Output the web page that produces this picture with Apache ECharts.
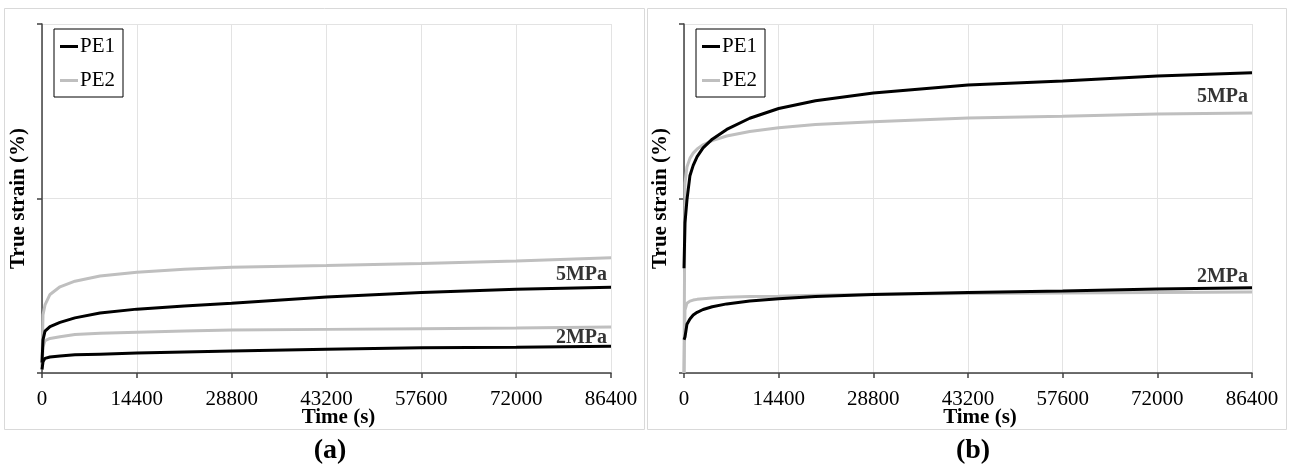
<!DOCTYPE html>
<html>
<head>
<meta charset="utf-8">
<script src="https://cdn.jsdelivr.net/npm/echarts@6/dist/echarts.min.js"></script>
<style>html,body{margin:0;padding:0;background:#fff}#c{width:1289px;height:465px}</style>
</head>
<body>
<div id="c"></div>
<script>
// ---- Data (time in s, true strain in %) ----
const xTicks = [0, 14400, 28800, 43200, 57600, 72000, 86400];

// Panel (a)
const timeA = [0, 150, 455, 1215, 2733, 5000, 8807, 14400, 21600, 28800, 43200, 57600, 72000, 86400];
const aPE1_5MPa = [0.3, 0.95, 1.2, 1.33, 1.45, 1.58, 1.72, 1.83, 1.92, 2.0, 2.18, 2.31, 2.4, 2.46];
const aPE2_5MPa = [0.2, 1.66, 1.95, 2.25, 2.47, 2.63, 2.78, 2.89, 2.97, 3.03, 3.08, 3.14, 3.21, 3.3];
const aPE1_2MPa = [0.1, 0.32, 0.42, 0.46, 0.49, 0.52, 0.54, 0.57, 0.6, 0.63, 0.68, 0.72, 0.74, 0.77];
const aPE2_2MPa = [0.1, 0.74, 0.93, 0.99, 1.04, 1.1, 1.14, 1.17, 1.2, 1.23, 1.25, 1.27, 1.29, 1.32];

// Panel (b)
const timeB = [0, 150, 450, 900, 1400, 2000, 2900, 4300, 6500, 10000, 14400, 20000, 28800, 43200, 57600, 72000, 86400];
const bPE1_5MPa = [3.0, 4.3, 4.96, 5.65, 5.95, 6.2, 6.45, 6.7, 6.98, 7.3, 7.58, 7.8, 8.02, 8.25, 8.37, 8.51, 8.6];
const bPE2_5MPa = [0, 5.44, 5.9, 6.15, 6.3, 6.42, 6.54, 6.66, 6.79, 6.92, 7.03, 7.12, 7.2, 7.31, 7.36, 7.42, 7.45];
const bPE1_2MPa = [0.95, 1.03, 1.4, 1.55, 1.66, 1.74, 1.82, 1.9, 1.98, 2.06, 2.13, 2.19, 2.25, 2.31, 2.35, 2.41, 2.44];
const bPE2_2MPa = [0, 1.8, 2.0, 2.06, 2.09, 2.11, 2.13, 2.15, 2.17, 2.19, 2.2, 2.23, 2.26, 2.28, 2.29, 2.31, 2.32];

// Stress-level annotations (anchored at data coords)
const annotA = [{text: '5MPa', t: 86400, v: 2.81}, {text: '2MPa', t: 86400, v: 1.0}];
const annotB = [{text: '5MPa', t: 86400, v: 7.91}, {text: '2MPa', t: 86400, v: 2.75}];

const panelTitles = ['(a)', '(b)'];

// ---- Chart ----
const FONT = '"Liberation Serif", "Times New Roman", serif';
const BLACK = '#000000', GRAY = '#bfbfbf';
const pairs = (ts, vs) => ts.map((t, i) => [t, vs[i]]);

function lineSeries(name, idx, ts, vs, color) {
  return {
    name, type: 'line', xAxisIndex: idx, yAxisIndex: idx,
    data: pairs(ts, vs), showSymbol: false, symbol: 'none',
    smooth: false,
    lineStyle: {color, width: 3}, itemStyle: {color}, z: color === BLACK ? 3 : 2
  };
}
function annotSeries(idx, ann) {
  return {
    type: 'scatter', xAxisIndex: idx, yAxisIndex: idx, symbolSize: 0, silent: true,
    data: ann.map(a => ({value: [a.t, a.v], label: {formatter: a.text}})),
    label: {show: true, position: 'left', distance: 4, color: '#000', fontFamily: FONT, fontWeight: 'bold', fontSize: 20}
  };
}
function xAxis(idx) {
  return {
    type: 'value', gridIndex: idx, min: xTicks[0], max: xTicks[xTicks.length - 1], interval: xTicks[1] - xTicks[0],
    name: 'Time (s)', nameLocation: 'middle', nameGap: 34, nameMoveOverlap: false,
    nameTextStyle: {fontFamily: FONT, fontWeight: 'bold', fontSize: 21, color: '#000', padding: [0, 0, 0, 24]},
    axisLine: {show: true, lineStyle: {color: '#404040', width: 1.5}},
    axisTick: {show: true, inside: false, length: 5, lineStyle: {color: '#404040', width: 1.5}},
    axisLabel: {fontFamily: FONT, fontSize: 21, color: '#000', margin: 16, formatter: v => String(v)},
    splitLine: {show: true, lineStyle: {color: '#e3e3e3', width: 1}}
  };
}
function yAxis(idx) {
  return {
    type: 'value', gridIndex: idx, min: 0, max: 10, interval: 5,
    name: 'True strain (%)', nameLocation: 'middle', nameGap: 13, nameRotate: 90,
    nameTextStyle: {fontFamily: FONT, fontWeight: 'bold', fontSize: 21, color: '#000'},
    axisLine: {show: true, lineStyle: {color: '#404040', width: 1.5}},
    axisTick: {show: true, inside: false, length: 5, lineStyle: {color: '#404040', width: 1.5}},
    axisLabel: {show: false},
    splitLine: {show: true, lineStyle: {color: '#e3e3e3', width: 1}}
  };
}
function legend(left) {
  return {
    left, top: 29, orient: 'vertical', data: ['PE1', 'PE2'],
    icon: 'rect', itemWidth: 18, itemHeight: 3, itemGap: 13,
    borderColor: '#000', borderWidth: 1, backgroundColor: '#fff',
    padding: [7, 8, 6, 6],
    textStyle: {fontFamily: FONT, fontSize: 21, color: '#000', padding: [0, 0, 0, -3]}
  };
}

const chart = echarts.init(document.getElementById('c'), null, {renderer: 'canvas'});
chart.setOption({
  animation: false,
  backgroundColor: '#fff',
  color: [BLACK, GRAY],
  title: [
    {text: panelTitles[0], left: 325, top: 432, textAlign: 'center',
     textStyle: {fontFamily: FONT, fontWeight: 'bold', fontSize: 28, color: '#000'}},
    {text: panelTitles[1], left: 968, top: 432, textAlign: 'center',
     textStyle: {fontFamily: FONT, fontWeight: 'bold', fontSize: 28, color: '#000'}}
  ],
  graphic: [
    {type: 'rect', shape: {x: 4.5, y: 8.5, width: 640, height: 421}, style: {fill: 'none', stroke: '#d9d9d9', lineWidth: 1}, z: -10},
    {type: 'rect', shape: {x: 647.5, y: 8.5, width: 639, height: 421}, style: {fill: 'none', stroke: '#d9d9d9', lineWidth: 1}, z: -10}
  ],
  legend: [legend(54), legend(696)],
  grid: [
    {left: 42, right: 678, top: 24, bottom: 92, containLabel: false},
    {left: 684, right: 37, top: 24, bottom: 92, containLabel: false}
  ],
  xAxis: [xAxis(0), xAxis(1)],
  yAxis: [yAxis(0), yAxis(1)],
  series: [
    lineSeries('PE2', 0, timeA, aPE2_5MPa, GRAY),
    lineSeries('PE2', 0, timeA, aPE2_2MPa, GRAY),
    lineSeries('PE1', 0, timeA, aPE1_5MPa, BLACK),
    lineSeries('PE1', 0, timeA, aPE1_2MPa, BLACK),
    annotSeries(0, annotA),
    lineSeries('PE2', 1, timeB, bPE2_5MPa, GRAY),
    lineSeries('PE1', 1, timeB, bPE1_5MPa, BLACK),
    lineSeries('PE1', 1, timeB, bPE1_2MPa, BLACK),
    lineSeries('PE2', 1, timeB, bPE2_2MPa, GRAY),
    annotSeries(1, annotB)
  ]
});
</script>
</body>
</html>
